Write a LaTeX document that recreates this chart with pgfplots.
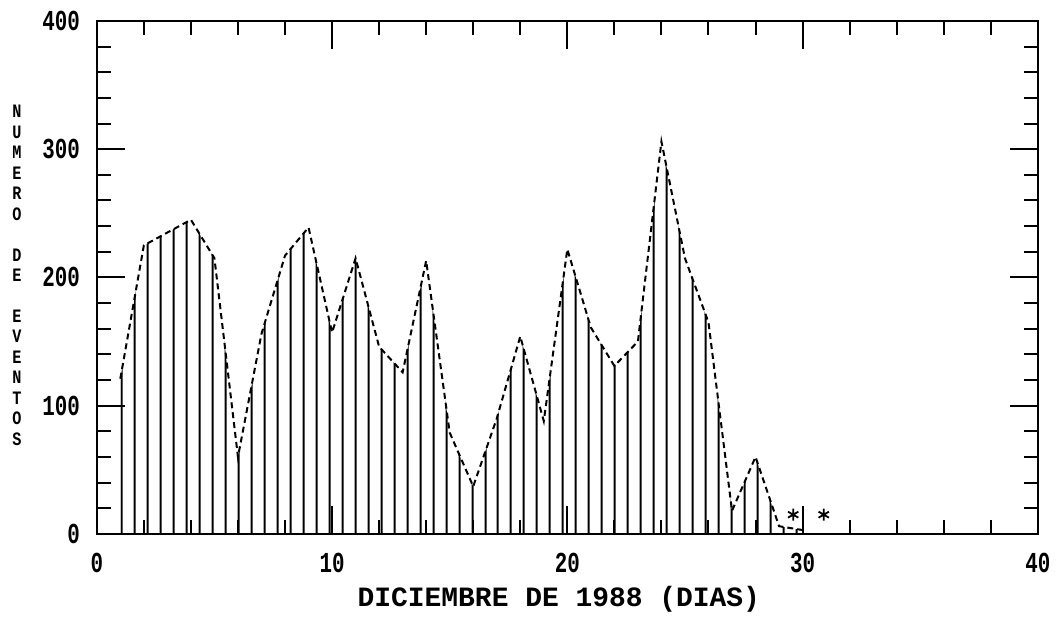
\documentclass[border=0pt]{standalone}
\usepackage{fontspec}
\setmainfont{Liberation Mono}
\newfontfamily\tickfont[FakeStretch=0.72]{Liberation Mono}
\newfontfamily\labfont[FakeStretch=0.8]{Liberation Mono}
\usepackage{pgfplots}
\usepackage{pgfplotstable}
\pgfplotsset{compat=1.18}
\usetikzlibrary{patterns.meta}

% eventos por dia, diciembre 1988
\pgfplotstableread{
day n
1  121
2  225
3  235
4  245
5  215
6  60
7  156
8  217
9  239
10 157
11 215
12 146
13 126
14 213
15 79
16 37
17 90
18 154
19 88
20 222
21 161
22 131
23 150
24 306
25 215
26 165
27 18
28 60
29 6
30 3
}\eventos

\begin{document}
\begin{tikzpicture}
\begin{axis}[
  scale only axis,
  width=471.5pt, height=257pt,
  xmin=0, xmax=40, ymin=0, ymax=400,
  xtick={0,10,...,40}, minor xtick={2,4,...,38},
  ytick={0,100,...,400}, minor ytick={20,40,...,380},
  tick align=inside,
  major tick length=14pt, minor tick length=7pt,
  every tick/.style={black, line width=1pt},
  axis line style={line width=1.2pt},
  /pgf/number format/assume math mode=true,
  tick label style={font=\fontsize{14.5pt}{14.5pt}\tickfont\bfseries},
  xticklabel style={yshift=-6pt},
  yticklabel style={xshift=-5pt},
  xlabel={DICIEMBRE DE 1988 (DIAS)},
  xlabel style={font=\fontsize{14pt}{14pt}\selectfont\bfseries,
    at={(axis description cs:0.491,-0.128)}, anchor=center},
  ylabel={N\\U\\M\\E\\R\\O\\\mbox{}\\D\\E\\\mbox{}\\E\\V\\E\\N\\T\\O\\S},
  ylabel style={rotate=-90, align=center,
    font=\fontsize{9.5pt}{10.25pt}\labfont\bfseries,
    at={(axis description cs:-0.085,0.504)}, anchor=center},
]
\coordinate (O) at (rel axis cs:0,0);

\addplot[draw=none,
  pattern={Lines[angle=90,distance=6.5pt,line width=1pt,xshift=2.6pt]},
  pattern color=black] table[x=day,y=n]{\eventos} \closedcycle;

\addplot[black, line width=1pt, densely dashed] table[x=day,y=n]{\eventos};

\addplot[only marks, mark=asterisk, mark size=3pt,
  mark options={line width=0.9pt}] coordinates {(29.6,15) (30.9,15)};
\end{axis}
\path (O) ++(-48.5pt,-40.5pt) rectangle ++(528.5pt,308pt);
\end{tikzpicture}
\end{document}
